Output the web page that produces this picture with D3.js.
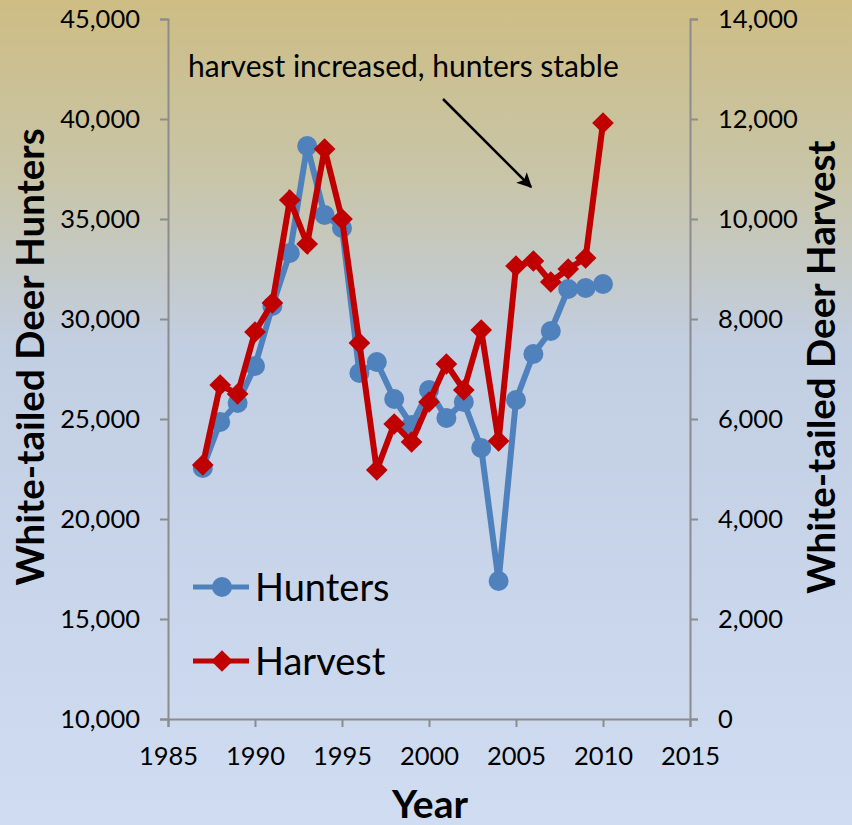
<!DOCTYPE html>
<html>
<head>
<meta charset="utf-8">
<script src="https://cdn.jsdelivr.net/npm/d3@7"></script>
<style>
  body { margin: 0; }
  svg { display: block; font-family: Lato, "Open Sans", sans-serif; }
</style>
</head>
<body>
<svg width="852" height="825"></svg>
<script>
'use strict'

var years = [1987, 1988, 1989, 1990, 1991, 1992, 1993, 1994, 1995, 1996, 1997, 1998,
  1999, 2000, 2001, 2002, 2003, 2004, 2005, 2006, 2007, 2008, 2009, 2010];

var hunters = [22550, 24850, 25800, 27650, 30650, 33300, 38650, 35200, 34550, 27300, 27850, 26000,
  24700, 26450, 25050, 25850, 23550, 16900, 25950, 28250, 29400, 31500, 31550, 31750];

var harvest = [5080, 6680, 6500, 7740, 8320, 10380, 9500, 11400, 10000, 7520, 4980, 5900,
  5540, 6340, 7100, 6580, 7780, 5560, 9060, 9160, 8740, 9000, 9220, 11920];

var xTicks = [1985, 1990, 1995, 2000, 2005, 2010, 2015];
var leftTicks = [10000, 15000, 20000, 25000, 30000, 35000, 40000, 45000];
var rightTicks = [0, 2000, 4000, 6000, 8000, 10000, 12000, 14000];

var svg = d3.select("svg"),
  margin = {
    top: 19,
    right: 162,
    bottom: 106,
    left: 168
  },
  width = +svg.attr("width") - margin.left - margin.right,
  height = +svg.attr("height") - margin.top - margin.bottom;

var blue = "#4f81bd",
  red = "#c00000",
  axisGray = "#8c8c8c";

// background gradient
var defs = svg.append("defs");
var bg = defs.append("linearGradient")
  .attr("id", "bg")
  .attr("x1", "0%").attr("y1", "0%")
  .attr("x2", "0%").attr("y2", "100%");
bg.append("stop").attr("offset", "0%").attr("stop-color", "#cebd84");
bg.append("stop").attr("offset", "22%").attr("stop-color", "#c8c5a9");
bg.append("stop").attr("offset", "42%").attr("stop-color", "#c2cee2");
bg.append("stop").attr("offset", "100%").attr("stop-color", "#d0dcf1");

svg.append("rect")
  .attr("width", 852)
  .attr("height", 825)
  .attr("fill", "url(#bg)");

var x = d3.scaleLinear().domain([1985, 2015]).range([0, width]);
var yL = d3.scaleLinear().domain([10000, 45000]).range([height, 0]);
var yR = d3.scaleLinear().domain([0, 14000]).range([height, 0]);

var fmt = d3.format(",");

var g = svg.append("g")
  .attr("transform", "translate(" + margin.left + "," + margin.top + ")");

var xAxis = d3.axisBottom(x).tickValues(xTicks).tickFormat(d3.format("d")).tickSizeOuter(0).tickSize(8).tickPadding(8);
var yAxisL = d3.axisLeft(yL).tickValues(leftTicks).tickFormat(fmt).tickSizeOuter(0).tickSize(8).tickPadding(20);
var yAxisR = d3.axisRight(yR).tickValues(rightTicks).tickFormat(fmt).tickSizeOuter(0).tickSize(8).tickPadding(20);

function styleAxis(sel) {
  sel.selectAll("path, line").attr("stroke", axisGray).attr("stroke-width", 2);
  sel.selectAll("text")
    .attr("fill", "#000")
    .style("font-size", "25.5px")
    .style("font-family", "Lato, sans-serif");
}

g.append("g")
  .attr("transform", "translate(0," + height + ")")
  .call(xAxis)
  .call(styleAxis)
  .selectAll("text").attr("dy", "1.17em");

g.append("g").call(yAxisL).call(styleAxis);

g.append("g")
  .attr("transform", "translate(" + width + ",0)")
  .call(yAxisR)
  .call(styleAxis);

// series
var lineL = d3.line()
  .x(function(d, i) { return x(years[i]); })
  .y(function(d) { return yL(d); });

var lineR = d3.line()
  .x(function(d, i) { return x(years[i]); })
  .y(function(d) { return yR(d); });

g.append("path")
  .datum(hunters)
  .attr("fill", "none")
  .attr("stroke", blue)
  .attr("stroke-width", 6)
  .attr("stroke-linejoin", "round")
  .attr("d", lineL);

g.selectAll(".hunter")
  .data(hunters)
  .enter()
  .append("circle")
  .attr("class", "hunter")
  .attr("cx", function(d, i) { return x(years[i]); })
  .attr("cy", function(d) { return yL(d); })
  .attr("r", 10)
  .attr("fill", blue);

g.append("path")
  .datum(harvest)
  .attr("fill", "none")
  .attr("stroke", red)
  .attr("stroke-width", 6)
  .attr("stroke-linejoin", "miter")
  .attr("d", lineR);

var diamond = d3.symbol().type(d3.symbolDiamond2).size(300);

g.selectAll(".harvest")
  .data(harvest)
  .enter()
  .append("path")
  .attr("class", "harvest")
  .attr("transform", function(d, i) {
    return "translate(" + x(years[i]) + "," + yR(d) + ")";
  })
  .attr("d", diamond)
  .attr("fill", red);

// annotation
defs.append("marker")
  .attr("id", "arrow")
  .attr("viewBox", "0 0 10 10")
  .attr("refX", 9)
  .attr("refY", 5)
  .attr("markerWidth", 6)
  .attr("markerHeight", 6)
  .attr("orient", "auto")
  .append("path")
  .attr("d", "M0,0 L10,5 L0,10 L2.5,5 z")
  .attr("fill", "#000");

svg.append("line")
  .attr("x1", 443).attr("y1", 99)
  .attr("x2", 531).attr("y2", 187)
  .attr("stroke", "#000")
  .attr("stroke-width", 2.5)
  .attr("marker-end", "url(#arrow)");

svg.append("text")
  .attr("x", 188)
  .attr("y", 77)
  .style("font-size", "30px")
  .text("harvest increased, hunters stable");

// legend
var legend = [
  { name: "Hunters", color: blue, y: 587, type: "circle" },
  { name: "Harvest", color: red, y: 661, type: "diamond" }
];

var items = svg.selectAll(".legend")
  .data(legend)
  .enter()
  .append("g")
  .attr("class", "legend")
  .attr("transform", function(d) { return "translate(0," + d.y + ")"; });

items.append("line")
  .attr("x1", 193).attr("x2", 249)
  .attr("stroke", function(d) { return d.color; })
  .attr("stroke-width", 5);

items.each(function(d) {
  var it = d3.select(this);
  if (d.type === "circle") {
    it.append("circle").attr("cx", 222).attr("r", 10).attr("fill", d.color);
  } else {
    it.append("path").attr("transform", "translate(222,0)").attr("d", diamond).attr("fill", d.color);
  }
});

items.append("text")
  .attr("x", 255)
  .attr("dy", "0.36em")
  .style("font-size", "38px")
  .text(function(d) { return d.name; });

// axis titles
svg.append("text")
  .attr("transform", "translate(44,357) rotate(-90)")
  .attr("text-anchor", "middle")
  .style("font-size", "38.5px")
  .style("font-weight", "bold")
  .text("White-tailed Deer Hunters");

svg.append("text")
  .attr("transform", "translate(835,367) rotate(-90)")
  .attr("text-anchor", "middle")
  .style("font-size", "38.5px")
  .style("font-weight", "bold")
  .text("White-tailed Deer Harvest");

svg.append("text")
  .attr("x", 430)
  .attr("y", 818)
  .attr("text-anchor", "middle")
  .style("font-size", "39px")
  .style("font-weight", "bold")
  .text("Year");
</script>
</body>
</html>
